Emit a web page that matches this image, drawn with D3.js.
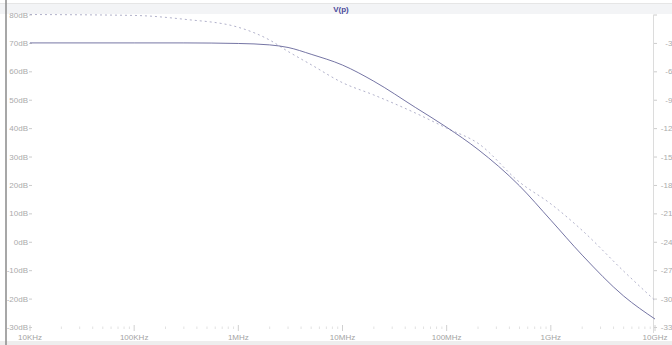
<!DOCTYPE html>
<html>
<head>
<meta charset="utf-8">
<script src="https://cdn.jsdelivr.net/npm/d3@7"></script>
<style>
  html, body { margin: 0; padding: 0; background: #fff; }
  svg { display: block; font-family: "Liberation Sans", Arial, sans-serif; }
</style>
</head>
<body>
<svg id="chart" width="672" height="345"></svg>
<script>
// Bode plot of V(p): magnitude (dB, left axis) and phase (degrees, right axis)
const freqs   = [1e4, 1e5, 3e5, 1e6, 2e6, 3e6, 5e6, 1e7, 2e7, 5e7, 1e8, 2e8, 5e8, 1e9, 2e9, 5e9, 1e10];
const magDb   = [70, 70, 70, 69.8, 69.3, 68.4, 66, 62.2, 56.5, 47.3, 40.3, 32.5, 19.7, 7.6, -4.7, -19.1, -27.2];
const phaseDeg = [0, -1, -5, -13.5, -27, -39, -53, -72, -85, -104, -120, -136, -177, -200, -228, -271, -302];

const xTickVals   = [1e4, 1e5, 1e6, 1e7, 1e8, 1e9, 1e10];
const xTickLabels = ["10KHz", "100KHz", "1MHz", "10MHz", "100MHz", "1GHz", "10GHz"];
const magTicks    = [80, 70, 60, 50, 40, 30, 20, 10, 0, -10, -20, -30];
const phaseTicks  = [0, -30, -60, -90, -120, -150, -180, -210, -240, -270, -300, -330];
const traceName   = "V(p)";

const svg = d3.select("#chart");
const W = 672, H = 345;
const plotL = 30, plotR = 655, plotT = 14.5, plotB = 327;

const x = d3.scaleLog().domain([1e4, 1e10]).range([plotL, plotR]);
const yMag = d3.scaleLinear().domain([-30, 80]).range([plotB, plotT]);
const yPh = d3.scaleLinear().domain([-330, 0]).range([plotB, plotT]);

// header band holding the trace name
svg.append("rect").attr("x", 0).attr("y", 3).attr("width", W).attr("height", 11)
  .attr("fill", "#f3f4f6");
svg.append("line").attr("x1", 0).attr("x2", W).attr("y1", 3.5).attr("y2", 3.5)
  .attr("stroke", "#e6e6e6");
svg.append("text").attr("x", 341).attr("y", 12).attr("text-anchor", "middle")
  .attr("font-size", 8).attr("font-weight", "bold").attr("fill", "#4a4a9a").text(traceName);

// footer band
svg.append("rect").attr("x", 0).attr("y", 341).attr("width", W).attr("height", 4)
  .attr("fill", "#eeeeee");

// window edge on the left
svg.append("line").attr("x1", 6).attr("x2", 6).attr("y1", 0).attr("y2", H)
  .attr("stroke", "#8a8a8a").attr("stroke-width", 1.5);

// right axis line
svg.append("line").attr("x1", 653.5).attr("x2", 653.5).attr("y1", plotT).attr("y2", 333)
  .attr("stroke", "#dcdcdc");

// left magnitude axis
const gL = svg.append("g").attr("transform", "translate(32,0)")
  .call(d3.axisLeft(yMag).tickValues(magTicks).tickSize(3).tickPadding(1)
    .tickFormat(d => d + "dB"));
gL.select(".domain").remove();
gL.selectAll("line").attr("stroke", "#cccccc");
gL.selectAll("text").attr("fill", "#ababab").attr("font-size", 8)
  .attr("font-family", "Liberation Sans, Arial, sans-serif");

// right phase axis (labels run to the window edge)
const gR = svg.append("g").attr("transform", "translate(654,0)")
  .call(d3.axisRight(yPh).tickValues(phaseTicks).tickSize(3).tickPadding(23)
    .tickFormat(d => d + "°"));
gR.select(".domain").remove();
gR.selectAll("line").attr("stroke", "#cccccc");
gR.selectAll("text").attr("fill", "#ababab").attr("font-size", 8)
  .attr("text-anchor", "end")
  .attr("font-family", "Liberation Sans, Arial, sans-serif");

// bottom frequency axis: major decades and minor ticks
const minor = [];
for (let d = 4; d < 10; d++) for (let m = 2; m <= 9; m++) minor.push(m * Math.pow(10, d));
svg.append("g").selectAll("line").data(minor).join("line")
  .attr("x1", d => x(d)).attr("x2", d => x(d))
  .attr("y1", 326.5).attr("y2", 329)
  .attr("stroke", "#e2e2e2");
svg.append("g").selectAll("line").data(xTickVals).join("line")
  .attr("x1", d => x(d)).attr("x2", d => x(d))
  .attr("y1", 325).attr("y2", 331)
  .attr("stroke", "#d0d0d0");
svg.append("g").selectAll("text").data(xTickVals).join("text")
  .attr("x", d => x(d)).attr("y", 340).attr("text-anchor", "middle")
  .attr("font-size", 8).attr("fill", "#a4a4a4")
  .text((d, i) => xTickLabels[i]);

// traces
const pts = freqs.map((f, i) => ({ f, m: magDb[i], p: phaseDeg[i] }));
const magLine = d3.line().x(d => x(d.f)).y(d => yMag(d.m)).curve(d3.curveMonotoneX);
const phLine = d3.line().x(d => x(d.f)).y(d => yPh(d.p)).curve(d3.curveMonotoneX);

svg.append("path").datum(pts).attr("d", phLine)
  .attr("fill", "none").attr("stroke", "#a8a8c4").attr("stroke-width", 0.9)
  .attr("stroke-dasharray", "2,3");
svg.append("path").datum(pts).attr("d", magLine)
  .attr("fill", "none").attr("stroke", "#65659a").attr("stroke-width", 0.9);
</script>
</body>
</html>
